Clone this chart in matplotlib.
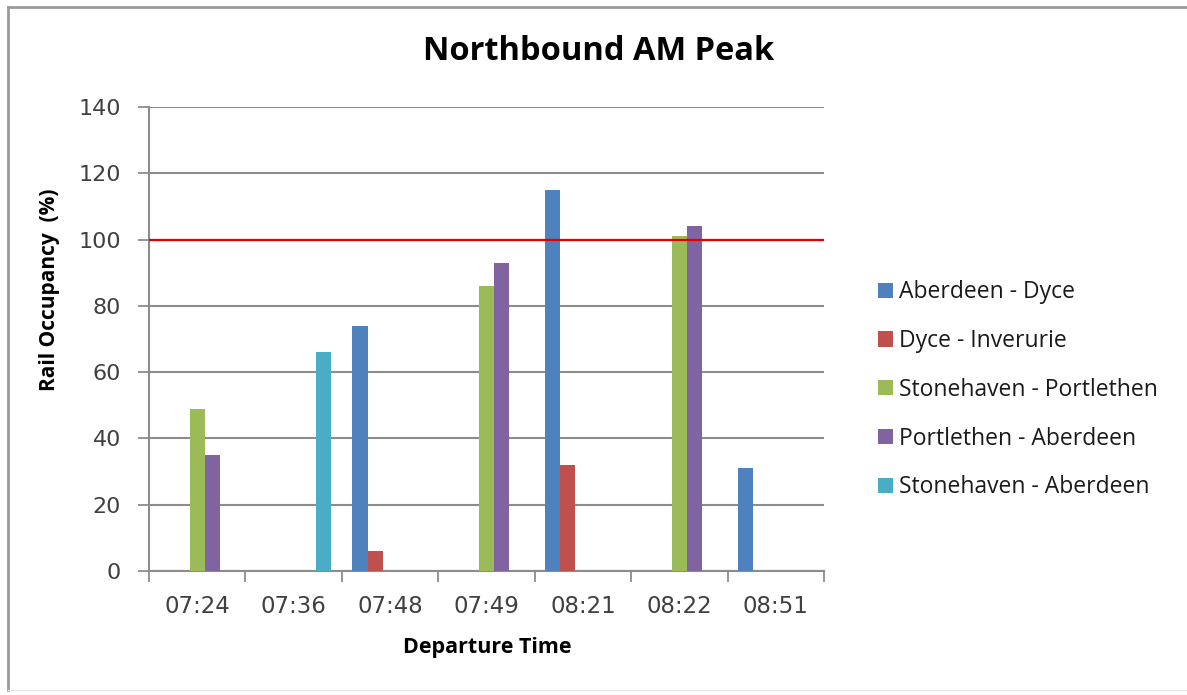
import numpy as np
import matplotlib

matplotlib.use("Agg")
import matplotlib.pyplot as plt
from matplotlib.lines import Line2D
from matplotlib.patches import Patch

# ---------------------------------------------------------------------------
# Data
# ---------------------------------------------------------------------------
times = ["07:24", "07:36", "07:48", "07:49", "08:21", "08:22", "08:51"]

series_names = [
    "Aberdeen - Dyce",
    "Dyce - Inverurie",
    "Stonehaven - Portlethen",
    "Portlethen - Aberdeen",
    "Stonehaven - Aberdeen",
]
aberdeen_dyce = [0, 0, 74, 0, 115, 0, 31]
dyce_inverurie = [0, 0, 6, 0, 32, 0, 0]
stonehaven_portlethen = [49, 0, 0, 86, 0, 101, 0]
portlethen_aberdeen = [35, 0, 0, 93, 0, 104, 0]
stonehaven_aberdeen = [0, 66, 0, 0, 0, 0, 0]
capacity = 100

colors = ["#4F81BD", "#C0504D", "#9BBB59", "#8064A2", "#4BACC6"]

# ---------------------------------------------------------------------------
# Figure
# ---------------------------------------------------------------------------
W, H = 1187, 695
fig = plt.figure(figsize=(W / 100, H / 100), dpi=100)
ax = fig.add_axes([149 / W, 1 - 571 / H, (824 - 149) / W, (571 - 107) / H])

x = np.arange(len(times))
bw = 0.156
all_series = [aberdeen_dyce, dyce_inverurie, stonehaven_portlethen,
              portlethen_aberdeen, stonehaven_aberdeen]
for i, (vals, col) in enumerate(zip(all_series, colors)):
    ax.bar(x + (i - 2) * bw, vals, width=bw, color=col, linewidth=0, zorder=3)

ax.axhline(capacity, color="#E00000", lw=1.6, zorder=4)

ax.set_xlim(-0.5, len(times) - 0.5)
ax.set_ylim(0, 140)
ax.set_yticks(np.arange(0, 141, 20))
ax.yaxis.grid(True, color="#8C8C8C", lw=1.5, zorder=0)
ax.set_axisbelow(True)

ax.set_xticks(x)
ax.set_xticklabels(times)
ax.set_xticks(np.arange(-0.5, len(times)), minor=True)
ax.tick_params(axis="x", which="major", length=0, pad=17)
ax.tick_params(axis="x", which="minor", length=8, width=1.3, color="#8C8C8C",
               direction="out")
ax.tick_params(axis="y", length=8, width=1.3, color="#8C8C8C", pad=12)
for lab in ax.get_xticklabels():
    lab.set_fontsize(16.5)
    lab.set_color("#404040")
for lab in ax.get_yticklabels():
    lab.set_fontsize(16)
    lab.set_color("#404040")

for s in ["top", "right"]:
    ax.spines[s].set_visible(False)
for s in ["left", "bottom"]:
    ax.spines[s].set_color("#8C8C8C")
    ax.spines[s].set_linewidth(1.5)

fig.text(50 / W, 1 - 290 / H, "Rail Occupancy  (%)", rotation=90,
         ha="center", va="center", fontsize=15, fontweight="bold",
         family="Open Sans")
fig.text(487 / W, 1 - 648 / H, "Departure Time", ha="center", va="center",
         fontsize=15.5, fontweight="bold", family="Open Sans")

fig.text(599 / W, 1 - 52 / H, "Northbound AM Peak", ha="center", va="center",
         fontsize=23.5, fontweight="bold", family="Open Sans")

handles = [Patch(facecolor=c, edgecolor="none") for c in colors]
fig.legend(handles, series_names, loc="upper left",
           bbox_to_anchor=(860 / W, 1 - 262 / H), frameon=False,
           prop={"family": "Open Sans", "size": 16.5}, handlelength=0.65,
           handleheight=0.65, handletextpad=0.25, labelspacing=1.08,
           labelcolor="#1a1a1a", borderpad=0.3)

# chart-area border
fig.add_artist(Line2D([8 / W, 1], [1 - 7 / H, 1 - 7 / H], transform=fig.transFigure,
                      color="#9A9A9A", lw=2))
fig.add_artist(Line2D([8 / W, 8 / W], [1 - 7 / H, 1 - 690 / H], transform=fig.transFigure,
                      color="#9A9A9A", lw=2))
fig.add_artist(Line2D([8 / W, 1], [1 - 690 / H, 1 - 690 / H], transform=fig.transFigure,
                      color="#E6E6E6", lw=1))

fig.savefig("out.png", dpi=100)
